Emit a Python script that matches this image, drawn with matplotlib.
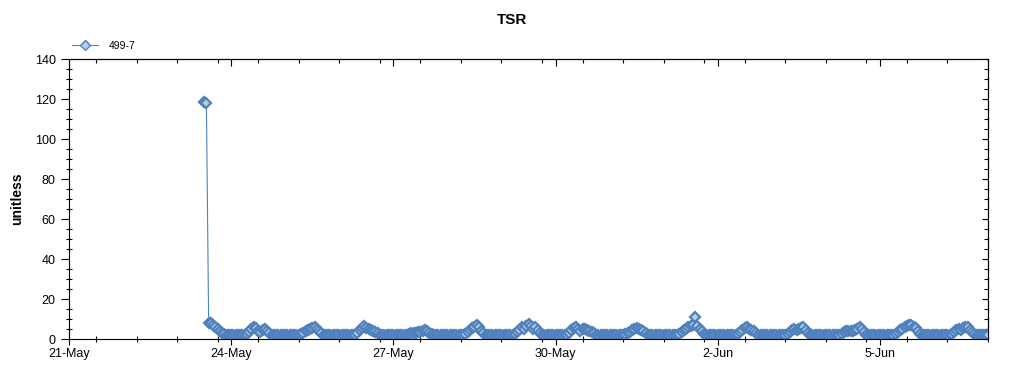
import matplotlib

matplotlib.use("Agg")

import matplotlib.dates as mdates
import matplotlib.pyplot as plt
import pandas as pd
from matplotlib.ticker import FixedLocator, MultipleLocator

LINE = "#4f81bd"
FACE = "#b9cde2"
INK = "#000000"

plt.rcParams["font.family"] = ["Liberation Sans", "DejaVu Sans"]

# hourly TSR readings for station 499-7, first reading 23-May 12:00
may23 = [118.5, 118, 8, 8, 7, 6, 5, 4, 3, 2.5, 2, 2]
may24 = [2, 2, 2, 2, 2, 2, 2, 2.5, 3.5, 5, 6, 5.5, 4, 3.5, 4.5, 5, 4, 3, 2, 2, 2, 2, 2, 2]
may25 = [2, 2, 2, 2, 2, 2, 2, 2.5, 3, 4, 4.5, 5, 5.5, 6, 5, 4, 3, 2, 2, 2, 2, 2, 2, 2]
may26 = [2, 2, 2, 2, 2, 2, 2, 2, 3, 4.5, 5.5, 6.5, 5.5, 5, 4.5, 4, 3.5, 3, 2, 2, 2, 2, 2, 2]
may27 = [2, 2, 2, 2, 2, 2, 2, 2.5, 3, 3, 3, 3.5, 3.5, 4, 4.5, 4, 3, 2.5, 2, 2, 2, 2, 2, 2]
may28 = [2, 2, 2, 2, 2, 2, 2, 2, 2.5, 3.5, 4.5, 5.5, 6, 7, 6, 4, 3, 2, 2, 2, 2, 2, 2, 2]
may29 = [2, 2, 2, 2, 2, 2, 2.5, 3.5, 4.5, 6, 5, 6.5, 7.5, 6.5, 5, 6, 4.5, 3, 2, 2, 2, 2, 2, 2]
may30 = [2, 2, 2, 2, 2, 2, 3, 4.5, 5.5, 6, 5, 4, 5, 5, 4.5, 4, 3.5, 3, 2, 2, 2, 2, 2, 2]
may31 = [2, 2, 2, 2, 2, 2, 2, 2.5, 3, 3.5, 4.5, 5, 5.5, 5, 4.5, 4, 3, 2, 2, 2, 2, 2, 2, 2]
jun01 = [2, 2, 2, 2, 2, 2, 2, 2.5, 3.5, 4.5, 5, 6, 6.5, 7, 11, 6.5, 5, 4, 2.5, 2, 2, 2, 2, 2]
jun02 = [2, 2, 2, 2, 2, 2, 2, 2, 2, 2.5, 3.5, 4.5, 5.5, 6, 5, 4.5, 4, 3, 2, 2, 2, 2, 2, 2]
jun03 = [2, 2, 2, 2, 2, 2, 2, 2.5, 3.5, 4.5, 5, 4.5, 5, 5.5, 6, 4.5, 3, 2, 2, 2, 2, 2, 2, 2]
jun04 = [2, 2, 2, 2, 2, 2, 2, 2.5, 3.5, 4, 4, 4, 4, 4.5, 5, 6, 5, 3.5, 2, 2, 2, 2, 2, 2]
jun05 = [2, 2, 2, 2, 2, 2, 2, 2.5, 3.5, 4.5, 5, 6, 6.5, 7, 7, 6, 5.5, 4, 2.5, 2, 2, 2, 2, 2]
jun06 = [2, 2, 2, 2, 2, 2, 2, 2, 2.5, 3.5, 4.5, 5, 4.5, 5.5, 6, 6, 4.5, 3.5, 2.5, 2, 2, 2, 2, 2]
jun07 = [2]

tsr = (may23 + may24 + may25 + may26 + may27 + may28 + may29 + may30 + may31
       + jun01 + jun02 + jun03 + jun04 + jun05 + jun06 + jun07)
times = pd.date_range("2011-05-23 12:00", periods=len(tsr), freq="h")

tick_dates = ["2011-05-21", "2011-05-24", "2011-05-27", "2011-05-30", "2011-06-02", "2011-06-05"]
tick_labels = ["21-May", "24-May", "27-May", "30-May", "2-Jun", "5-Jun"]
x_start, x_end = "2011-05-21", "2011-06-07"

fig = plt.figure(figsize=(10.24, 3.75), dpi=100)
ax = fig.add_axes([69 / 1024, 36 / 375, 919 / 1024, 280 / 375])

ax.plot(times, tsr, color=LINE, linewidth=0.8, marker="D", markersize=5.5,
        markerfacecolor=FACE, markeredgecolor=LINE, markeredgewidth=1.6, label="499-7")

ax.set_xlim(mdates.datestr2num(x_start), mdates.datestr2num(x_end))
ax.set_ylim(0, 140)

ticks = [mdates.datestr2num(d) for d in tick_dates]
ax.xaxis.set_major_locator(FixedLocator(ticks))
ax.set_xticklabels(tick_labels)
ax.xaxis.set_minor_locator(MultipleLocator(0.75))
ax.yaxis.set_major_locator(MultipleLocator(20))
ax.yaxis.set_minor_locator(MultipleLocator(5))

ax.tick_params(axis="x", which="major", direction="inout", length=9, width=0.8, labelsize=9, colors=INK, pad=2)
ax.tick_params(axis="x", which="minor", direction="inout", length=5, width=0.8)
ax.tick_params(axis="y", which="major", direction="out", length=6, width=0.8, labelsize=9, colors=INK)
ax.tick_params(axis="y", which="minor", direction="inout", length=5, width=0.8)

top = ax.secondary_xaxis("top")
top.xaxis.set_major_locator(FixedLocator(ticks))
top.xaxis.set_minor_locator(MultipleLocator(0.75))
top.tick_params(which="major", direction="in", length=5, width=0.8, labeltop=False)
top.tick_params(which="minor", direction="in", length=3, width=0.8)

right = ax.secondary_yaxis("right")
right.yaxis.set_major_locator(MultipleLocator(20))
right.yaxis.set_minor_locator(MultipleLocator(5))
right.tick_params(which="major", direction="in", length=4, width=0.8, labelright=False)
right.tick_params(which="minor", direction="in", length=3, width=0.8)

for spine in ax.spines.values():
    spine.set_linewidth(0.8)
    spine.set_color(INK)

ax.set_ylabel("unitless", fontsize=10, fontweight="bold", labelpad=8)
fig.suptitle("TSR", x=0.5, y=0.965, fontsize=11, fontweight="bold")
leg = ax.legend(loc="center left", bbox_to_anchor=(72 / 1024, 329 / 375), bbox_transform=fig.transFigure,
                frameon=False, fontsize=7.5, handlelength=2.5, handletextpad=1.0, borderaxespad=0,
                borderpad=0)
leg.get_lines()[0].set_markeredgewidth(1.0)

fig.savefig("out.png", dpi=100, facecolor="white")
